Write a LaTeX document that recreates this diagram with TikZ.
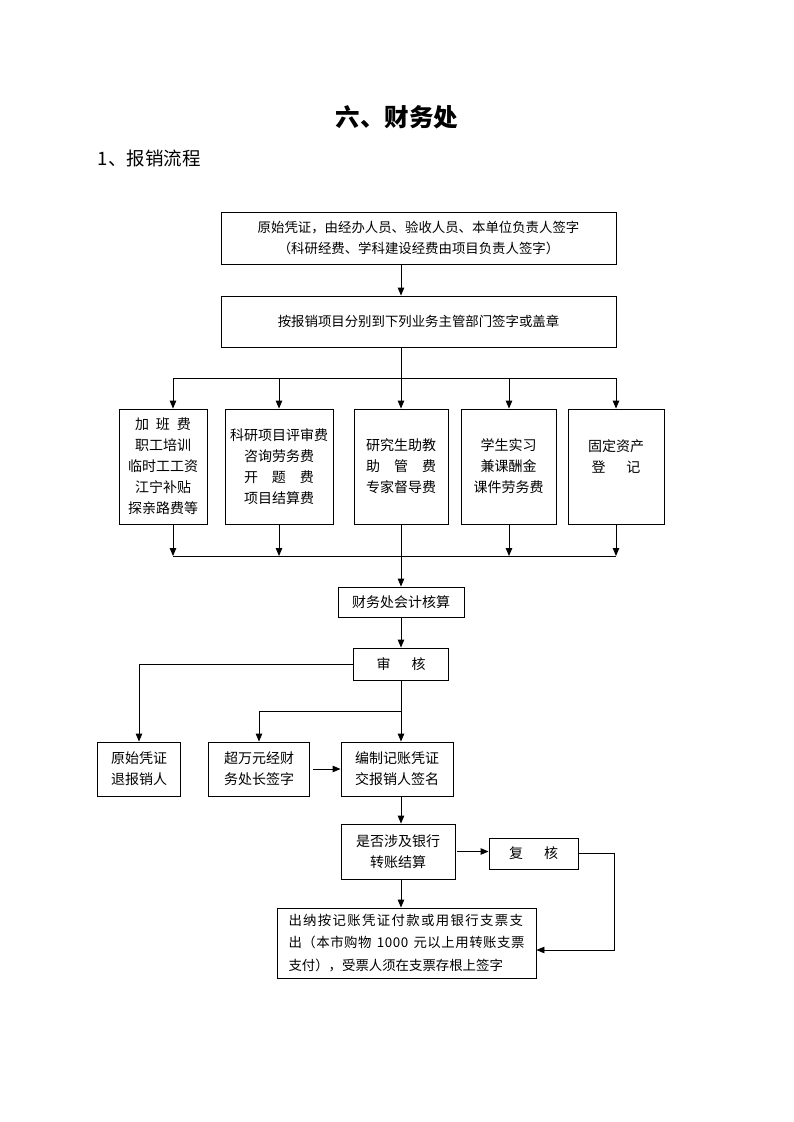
\documentclass[tikz,border=0pt]{standalone}
\usepackage{fontspec}
\setmainfont{Noto Sans CJK SC}
\usetikzlibrary{arrows.meta}

\begin{document}
\begin{tikzpicture}[x=1pt, y=-1pt, line width=0.9pt, >={Triangle[length=8pt,width=6.5pt]},
		procbox/.style={draw, line width=0.9pt, inner sep=0pt, align=center, font=\fontsize{14}{21}\selectfont},
		widebox/.style={procbox, minimum width=395pt, font=\fontsize{13.4}{21}\selectfont},
		feebox/.style={procbox, minimum height=115pt}]
		\useasboundingbox (0,0) rectangle (793,1122);
		\node (title) at (397,117) {\fontsize{24.5}{28}\selectfont\bfseries 六、财务处};
		\node (sub) [anchor=west] at (94,158) {\fontsize{18.5}{22}\selectfont 1、报销流程};
		
		\node (orig) [widebox, minimum height=52pt] at (418.5,238) {原始凭证，由经办人员、验收人员、本单位负责人签字\\（科研经费、学科建设经费由项目负责人签字）};
		\node (sign) [widebox, minimum height=51pt] at (418.5,321.5) {按报销项目分别到下列业务主管部门签字或盖章};
		
		\node (fee1) [feebox, minimum width=88pt] at (163,466.5) {加\hspace{.5em}班\hspace{.5em}费\\职工培训\\临时工工资\\江宁补贴\\探亲路费等};
		\node (fee2) [feebox, minimum width=108pt] at (279,466.5) {科研项目评审费\\咨询劳务费\\开\hspace{1em}题\hspace{1em}费\\项目结算费};
		\node (fee3) [feebox, minimum width=94pt] at (401,466.5) {研究生助教\\助\hspace{1em}管\hspace{1em}费\\专家督导费};
		\node (fee4) [feebox, minimum width=95pt] at (508.5,466.5) {学生实习\\兼课酬金\\课件劳务费};
		\node (fee5) [feebox, minimum width=96pt] at (616,466.5) {固定资产\\登\hspace{1.5em}记\\~};
		
		\node (acct) [procbox, minimum width=126pt, minimum height=30pt] at (401,602) {财务处会计核算};
		\node (audit) [procbox, minimum width=95pt, minimum height=32pt] at (401,664) {审\hspace{1.5em}核};
		\node (ret) [procbox, minimum width=83pt, minimum height=54pt] at (139,769) {原始凭证\\退报销人};
		\node (over) [procbox, minimum width=101pt, minimum height=54pt] at (259,769) {超万元经财\\务处长签字};
		\node (voucher) [procbox, minimum width=112pt, minimum height=54pt] at (397,769) {编制记账凭证\\交报销人签名};
		\node (bank) [procbox, minimum width=114pt, minimum height=55pt] at (398,851.5) {是否涉及银行\\转账结算};
		\node (recheck) [procbox, minimum width=89pt, minimum height=31pt] at (533.5,853.5) {复\hspace{1.5em}核};
		\node (pay) [procbox, minimum width=259pt, minimum height=70pt, align=left, font=\fontsize{13.4}{22.5}\selectfont] at (406.5,943) {\makebox[236pt][s]{\addfontfeature{LetterSpace=10}出纳按记账凭证付款或用银行支票支}\\\makebox[236pt]{\addfontfeature{LetterSpace=4}出（本市购物\hfill 1000\hfill 元以上用转账支票}\\支付），受票人须在支票存根上签字};
		
		\coordinate (fork) at (401,378);
		\coordinate (f1) at (173,378);
		\coordinate (f2) at (279,378);
		\coordinate (f4) at (509,378);
		\coordinate (f5) at (616,378);
		\coordinate (j1) at (173,556);
		\coordinate (j2) at (279,556);
		\coordinate (j4) at (509,556);
		\coordinate (j5) at (616,556);
		\coordinate (split) at (401,711);
		\coordinate (bend) at (614,950);
		
		\draw [->] (orig.south -| fork)--(sign.north -| fork);
		\draw (sign.south -| fork)--(fork);
		\draw (f1)--(f5);
		\draw [->] (f1)--(f1 |- fee1.north);
		\draw [->] (f2)--(f2 |- fee2.north);
		\draw [->] (fork)--(fee3.north);
		\draw [->] (f4)--(f4 |- fee4.north);
		\draw [->] (f5)--(f5 |- fee5.north);
		
		\draw [->] (j1 |- fee1.south)--(j1);
		\draw [->] (j2 |- fee2.south)--(j2);
		\draw [->] (j4 |- fee4.south)--(j4);
		\draw [->] (j5 |- fee5.south)--(j5);
		\draw (j1)--(j5);
		\draw [->] (fee3.south)--(acct.north);
		
		\draw [->] (acct.south)--(audit.north);
		\draw [->] (audit.west) -| (ret.north);
		\draw (audit.south)--(split);
		\draw [->] (split) -| (over.north);
		\draw [->] (split)--(split |- voucher.north);
		\draw [->, shorten <=3pt] (over.east)--(voucher.west);
		\draw [->] (split |- voucher.south)--(split |- bank.north);
		\draw [->, shorten <=2pt] (bank.east)--(bank.east -| recheck.west);
		\draw [->] (split |- bank.south)--(split |- pay.north);
		\draw [->] (recheck.east) -| (bend)--(bend -| pay.east);
	\end{tikzpicture}
\end{document}
